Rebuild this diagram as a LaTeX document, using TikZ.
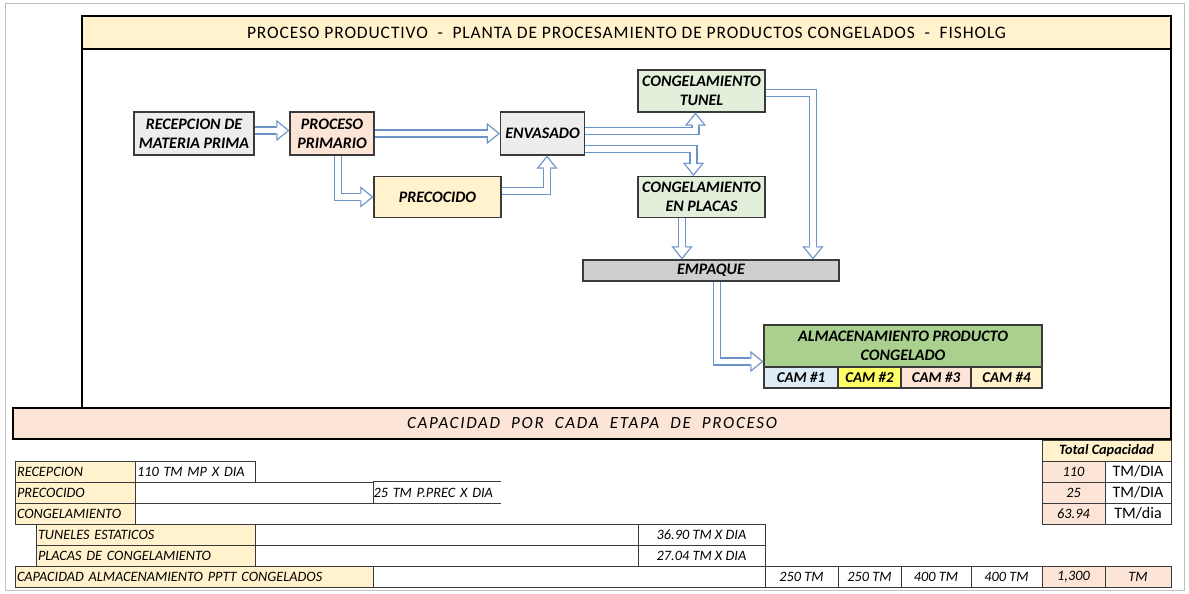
\documentclass[tikz,border=0pt]{standalone}
\usepackage{fontspec}
\setmainfont{Carlito}
\usepackage{tikz}
\usetikzlibrary{arrows.meta}
\usetikzlibrary{positioning}

\definecolor{grisc}{HTML}{EDEDED}
\definecolor{grism}{HTML}{D0CECE}
\definecolor{rosa}{HTML}{FCE4D6}
\definecolor{amar}{HTML}{FFF2CC}
\definecolor{verdec}{HTML}{E2EFDA}
\definecolor{verde}{HTML}{A9D08E}
\definecolor{celeste}{HTML}{DDEBF7}
\definecolor{limon}{HTML}{FFFF66}
\definecolor{flecha}{HTML}{6C93C8}
\definecolor{borde}{HTML}{3A3A3A}

\newcommand{\ftitulo}{\fontsize{17.5}{20}\selectfont\addfontfeatures{LetterSpace=5}}
\newcommand{\fbanda}{\fontsize{17}{20}\selectfont\itshape\addfontfeatures{LetterSpace=10}}
\newcommand{\fflujo}{\fontsize{16}{19}\selectfont\bfseries\itshape}
\newcommand{\fcam}{\fontsize{15}{16}\selectfont\bfseries\itshape}
\newcommand{\ftabla}{\fontsize{14.3}{16}\selectfont\itshape}
\newcommand{\funid}{\fontsize{16}{18}\selectfont}

\tikzset{caja/.style = {draw = borde, line width = 1.3pt, inner sep = 0, align = center, font = \fflujo}}
\tikzset{celda/.style = {draw = borde, line width = 0.8pt, inner xsep = 2, inner ysep = 0, minimum height = 21, font = \ftabla}}
\tikzset{banda/.style = {draw = black, line width = 2.2pt, inner sep = 0}}
\tikzset{blk/.style = {draw = flecha, line width = 8.5pt, -{Triangle[width = 21pt, length = 13pt, line width = 0.1pt]},
    postaction = {draw = white, line width = 5.9pt, -{Triangle[width = 15.6pt, length = 9.6pt, line width = 0.1pt]}, shorten > = 2.1pt}}}

\begin{document}
\begin{tikzpicture}[x = 1pt, y = -1pt]

      \useasboundingbox (0, 0) rectangle (1189, 594);
      \draw [gray!50, line width = 1pt] (5, 4) rectangle (1184, 590);

      % marco y bandas
      \draw [black, line width = 2.2pt] (82, 16) rectangle (1171, 408);
      \node [banda, fill = amar, minimum width = 1089, minimum height = 33, font = \ftitulo] (titulo) at (626.5, 32.5)
        {PROCESO PRODUCTIVO\ \ -\ \ PLANTA DE PROCESAMIENTO DE PRODUCTOS CONGELADOS\ \ -\ \ FISHOLG};
      \node [banda, fill = rosa, minimum width = 1158, minimum height = 31, font = \fbanda] (capac) at (592, 423.5)
        {CAPACIDAD\ \ POR\ \ CADA\ \ ETAPA\ \ DE\ \ PROCESO};

      % diagrama
      \node [caja, fill = grisc, minimum width = 120, minimum height = 43] (recep) at (194, 133.5) {RECEPCION DE\\MATERIA PRIMA};
      \node [caja, fill = rosa, minimum width = 84, minimum height = 43] (proc) at (332, 133.5) {PROCESO\\PRIMARIO};
      \node [caja, fill = grisc, minimum width = 84, minimum height = 43] (envas) at (542.5, 133.5) {ENVASADO};
      \node [caja, fill = amar, minimum width = 127, minimum height = 41] (prec) at (437.5, 197) {PRECOCIDO};
      \node [caja, fill = verdec, minimum width = 127, minimum height = 42] (tunel) at (701.5, 91) {CONGELAMIENTO\\TUNEL};
      \node [caja, fill = verdec, minimum width = 127, minimum height = 41] (placas) at (701.5, 197) {CONGELAMIENTO\\EN PLACAS};
      \node [caja, fill = grism, minimum width = 256, minimum height = 21] (empaque) at (711, 270.5) {EMPAQUE};
      \node [caja, fill = verde, minimum width = 278, minimum height = 42] (almacen) at (903, 346) {ALMACENAMIENTO PRODUCTO\\CONGELADO};
      \foreach \cx/\w/\col [count = \i] in {801/74/celeste, 869.5/63/limon, 936/70/rosa, 1006.5/71/amar}
        \node [caja, fill = \col, minimum width = \w, minimum height = 21, font = \fcam] (cam\i) at (\cx, 377.5) {CAM \#\i};

      \draw [blk] ([yshift = 3pt]recep.east) -- ([yshift = 3pt]proc.west);
      \draw [blk] (proc.east) -- (envas.west);
      \draw [blk] ([xshift = 6pt]proc.south) |- (prec.west);
      \draw [blk] ([yshift = 6pt]prec.east) -| ([xshift = 4.5pt]envas.south);
      \draw [blk] ([yshift = 2.5pt]envas.east) -| ([xshift = -6pt]tunel.south);
      \draw [blk] ([yshift = -15.5pt]envas.east) -| ([xshift = -8pt]placas.north);
      \draw [blk] ([yshift = -2pt]tunel.east) -| ([xshift = 102pt]empaque.north);
      \draw [blk] ([xshift = -19.5pt]placas.south) -- ([xshift = -29pt]empaque.north);
      \draw [blk] ([xshift = 6pt]empaque.south) |- ([yshift = -15.5pt]almacen.west);

      % tabla de capacidades
      \node [celda, fill = amar, minimum width = 129, font = \ftabla\bfseries] (total) at (1106.5, 450.5) {Total Capacidad};

      \node [celda, fill = amar, text width = 116, align = left] (recepl) at (75, 471.5) {RECEPCION};
      \node [celda, text width = 116, align = left] (recepv) at (195, 471.5) {110 TM MP X DIA};

      \node [celda, fill = amar, text width = 116, align = left] (precl) at (75, 492.5) {PRECOCIDO};
      \node [celda, minimum width = 238] (precb) at (254, 492.5) {};
      \node [celda, draw = none, inner xsep = 0.5, text width = 127, align = left] (precv) at (437, 492.5) {25 TM P.PREC X DIA};
      \draw [borde, line width = 0.8pt] (precv.north west) -- (precv.north east) (precv.south west) -- (precv.south east);

      \node [celda, fill = amar, text width = 116, align = left] (congl) at (75, 513.5) {CONGELAMIENTO};

      \node [celda, fill = amar, text width = 215, align = left] (tunl) at (145.5, 534.5) {TUNELES ESTATICOS};
      \node [celda, minimum width = 383] (tunb) at (446.5, 534.5) {};
      \node [celda, minimum width = 127] (tunv) at (701.5, 534.5) {36.90 TM X DIA};

      \node [celda, fill = amar, text width = 215, align = left] (placl) at (145.5, 555.5) {PLACAS DE CONGELAMIENTO};
      \node [celda, minimum width = 383] (placb) at (446.5, 555.5) {};
      \node [celda, minimum width = 127] (placv) at (701.5, 555.5) {27.04 TM X DIA};

      \node [celda, fill = amar, text width = 354, align = left] (almal) at (194, 576.5) {CAPACIDAD ALMACENAMIENTO PPTT CONGELADOS};
      \node [celda, minimum width = 392] (almab) at (569, 576.5) {};

      \foreach \cy/\val/\uni [count = \i] in {471.5/110/TM\slash DIA, 492.5/25/TM\slash DIA, 513.5/63.94/TM\slash dia} {
        \node [celda, fill = rosa, minimum width = 63] (tot\i) at (1073.5, \cy) {\val};
        \node [celda, minimum width = 66, font = \funid] (uni\i) at (1138, \cy) {\uni};
      }
      \foreach \cx/\w/\col/\txt [count = \i] in {801.5/73/white/250 TM, 869.5/63/white/250 TM, 936/70/white/400 TM,
          1006.5/71/white/400 TM, 1073.5/63/rosa/{1,300}, 1138/66/rosa/TM}
        \node [celda, fill = \col, minimum width = \w] (cap\i) at (\cx, 576.5) {\txt};

\end{tikzpicture}
\end{document}
